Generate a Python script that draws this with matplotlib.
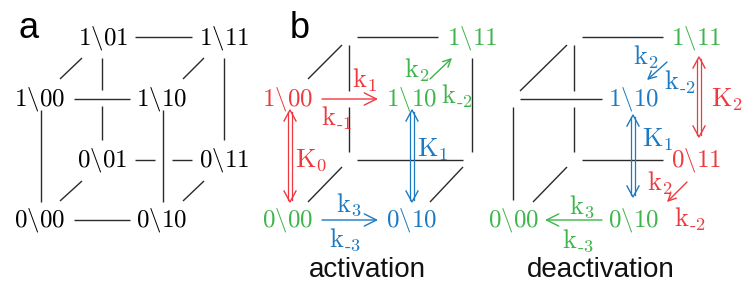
import matplotlib
matplotlib.use('Agg')
import matplotlib.pyplot as plt

plt.rcParams['mathtext.fontset'] = 'cm'

RED = '#ee3a3f'
GREEN = '#3db54a'
BLUE = '#1b7ac3'
GREY = '#2a2a2a'

# state labels (cube corners)
states_a = ['1\\01', '1\\11', '1\\00', '1\\10', '0\\01', '0\\11', '0\\00', '0\\10']
states_act = ['1\\11', '1\\00', '1\\10', '0\\00', '0\\10']
colors_act = [GREEN, RED, GREEN, GREEN, BLUE]
states_deact = ['1\\11', '1\\10', '0\\11', '0\\00', '0\\10']
colors_deact = [GREEN, BLUE, RED, GREEN, GREEN]

# rate labels
rates_act = ['k_1', 'k_-1', 'k_2', 'k_-2', 'K_0', 'K_1', 'k_3', 'k_-3']
rcolors_act = [RED, RED, GREEN, GREEN, RED, BLUE, BLUE, BLUE]
rates_deact = ['k_2', 'k_-2', 'K_2', 'K_1', 'k_2', 'k_-2', 'k_3', 'k_-3']
rcolors_deact = [BLUE, BLUE, RED, BLUE, RED, RED, GREEN, GREEN]

# layout (pixel coords)
pos_a = [(103, 38), (224, 38), (40, 99), (162, 99), (102, 160), (224, 160), (40, 220), (162, 220)]
pos_act = [(472, 38), (288, 99), (411, 99), (288, 220), (411, 220)]
pos_deact = [(696, 38), (634, 99), (696, 160), (514, 220), (634, 220)]
rpos_act = [(364, 80), (337, 118), (417, 70), (457, 96), (311, 160), (433, 150), (349, 205), (345, 240)]
rpos_deact = [(646, 57), (680, 82), (727, 100), (658, 140), (660, 183), (690, 219), (582, 207), (578, 241)]

lines_a = [((135, 37), (192, 37)), ((74, 99), (130, 99)), ((74, 220), (130, 220)),
           ((135, 160), (155, 160)), ((172, 160), (192, 160)),
           ((102, 58), (102, 90)), ((102, 106), (102, 140)),
           ((41, 110), (41, 202)), ((163, 110), (163, 202)), ((224, 58), (224, 140)),
           ((60, 79), (82, 58)), ((183, 79), (204, 58)), ((60, 201), (82, 181)), ((183, 201), (204, 181))]
lines_act = [((357, 37), (438, 37)), ((308, 79), (342, 45)), ((349, 45), (349, 91)), ((349, 107), (349, 152)),
             ((472, 58), (472, 152)), ((357, 160), (463, 160)), ((308, 202), (342, 167)), ((430, 202), (463, 167))]
lines_deact = [((582, 37), (663, 37)), ((520, 91), (567, 45)), ((574, 45), (574, 91)), ((574, 107), (574, 152)),
               ((520, 99), (602, 99)), ((513, 107), (513, 200)), ((582, 160), (663, 160)), ((533, 202), (567, 167))]

arrows_act = [((322, 99), (378, 99), RED, 22), ((322, 220), (378, 220), BLUE, 22), ((430, 79), (452, 58), GREEN, 14)]
arrows_deact = [((602, 220), (545, 220), GREEN, 22), ((667, 62), (647, 80), BLUE, 14), ((687, 182), (667, 202), RED, 14)]
darrows = [(290, 110, 202, RED), (412, 110, 202, BLUE), (633, 115, 197, BLUE), (699, 57, 137, RED)]

fig = plt.figure(figsize=(7.45, 2.93), dpi=100)
ax = fig.add_axes([0, 0, 1, 1])
ax.set_xlim(0, 745)
ax.set_ylim(293, 0)
ax.axis('off')

for (x0, y0), (x1, y1) in lines_a + lines_act + lines_deact:
    ax.plot([x0, x1], [y0, y1], color=GREY, lw=1.0, solid_capstyle='butt')

def state(lbl, xy, c='black'):
    ax.text(xy[0], xy[1], '$' + lbl.replace('\\', '\\backslash ') + '$', color=c,
            fontsize=18, ha='center', va='center')

for s, p in zip(states_a, pos_a):
    state(s, p)
for s, p, c in zip(states_act, pos_act, colors_act):
    state(s, p, c)
for s, p, c in zip(states_deact, pos_deact, colors_deact):
    state(s, p, c)

for r, p, c in zip(rates_act + rates_deact, rpos_act + rpos_deact, rcolors_act + rcolors_deact):
    base, sub = r.split('_')
    sub = sub.replace('-', '\\text{-}')
    ax.text(p[0], p[1], '$\\mathrm{' + base + '}_{' + sub + '}$', color=c, fontsize=19, ha='center', va='center')

for a, b, c, ms in arrows_act + arrows_deact:
    ax.annotate('', xy=b, xytext=a,
                arrowprops=dict(arrowstyle='->', color=c, lw=1.0, shrinkA=0, shrinkB=0, mutation_scale=ms))

# double-line arrows (like \Updownarrow)
for x, y0, y1, c in darrows:
    for dx in (-1.7, 1.7):
        ax.plot([x + dx, x + dx], [y0 + 2, y1 - 2], color=c, lw=0.9)
    ax.plot([x - 6, x, x + 6], [y0 + 11, y0, y0 + 11], color=c, lw=1.0)
    ax.plot([x - 6, x, x + 6], [y1 - 11, y1, y1 - 11], color=c, lw=1.0)

ax.text(19, 38, 'a', fontsize=26, family='Liberation Sans', va='baseline', ha='left')
ax.text(290, 38, 'b', fontsize=26, family='Liberation Sans', va='baseline', ha='left')
ax.text(367, 270, 'activation', fontsize=20, family='Liberation Sans', ha='center', va='center', color='#111111')
ax.text(601, 270, 'deactivation', fontsize=20, family='Liberation Sans', ha='center', va='center', color='#111111')

fig.savefig('out.png', dpi=100)
